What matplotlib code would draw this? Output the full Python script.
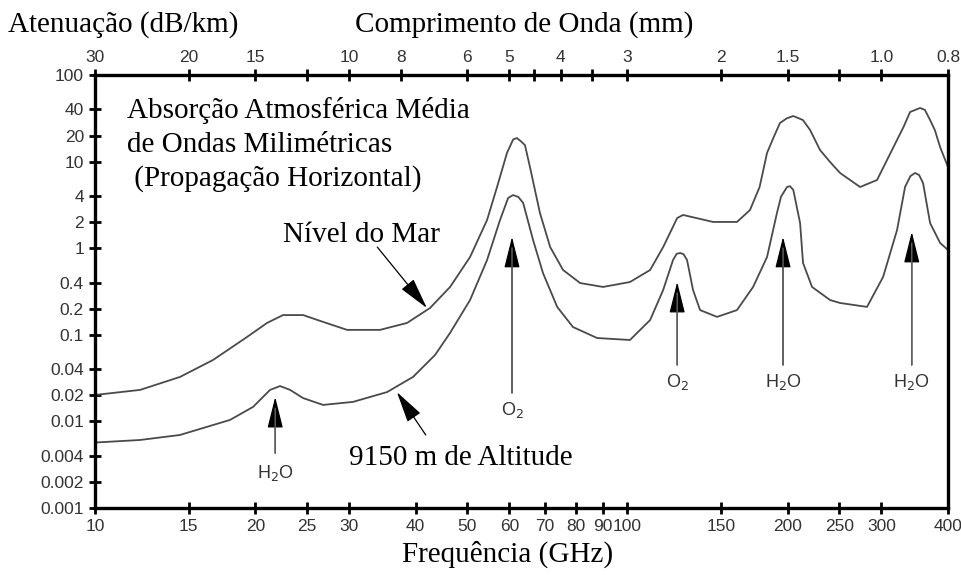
import matplotlib
matplotlib.use("Agg")
import matplotlib.pyplot as plt
from matplotlib.ticker import FixedLocator, FixedFormatter, NullLocator

SERIF = ["Liberation Serif", "DejaVu Serif"]
SANS = ["Liberation Sans", "DejaVu Sans"]
CURVE = "#4a4a4a"
TXT = "#333333"

# ── data (GHz, dB/km) ────────────────────────────────────────────────────────
freq_sea = [10, 12.15, 14.44, 16.66, 19.3, 21.04, 22.55, 24.59, 26.81, 29.74,
            34.3, 38.55, 42.58, 46.43, 50.63, 54.5, 56.9, 59.4, 61.0, 62.0,
            63.0, 64.2, 65.6, 68.5, 71.6, 75.7, 81.5, 90.0, 101.1, 110.3,
            116.7, 124.0, 127.2, 144.8, 160.6, 169.9, 177.1, 182.9, 188.4, 193.4,
            199.2, 204.9, 213.6, 220.3, 230.0, 240.2, 250.8, 273.5, 294.3, 320.9,
            330.0, 339.5, 354.5, 362.0, 370.2, 378.0, 386.6, 400]
atten_sea = [0.0202, 0.0231, 0.0326, 0.0512, 0.0944, 0.137, 0.169, 0.169, 0.141, 0.114,
             0.114, 0.137, 0.204, 0.356, 0.791, 2.12, 5.09, 12.6, 18.0, 18.7,
             17.3, 15.5, 8.66, 2.55, 1.03, 0.56, 0.396, 0.357, 0.407, 0.56,
             1.03, 2.23, 2.42, 2.01, 2.01, 2.76, 5.09, 12.6, 19.4, 27.9,
             31.6, 33.6, 30.2, 23.2, 13.6, 9.9, 7.39, 5.09, 6.13, 17.8,
             25.1, 37.4, 41.6, 39.5, 30.2, 23.0, 14.7, 8.66]

freq_alt = [10, 12.15, 14.44, 17.93, 19.81, 21.32, 22.26, 23.25, 24.59, 26.81,
            30.52, 35.36, 39.56, 43.52, 46.43, 50.63, 54.5, 57.64, 59.7, 60.97,
            62.4, 63.7, 66.5, 69.4, 73.8, 79.0, 87.7, 101.1, 110.3, 116.7,
            121.8, 123.7, 125.6, 127.5, 129.4, 132.8, 136.9, 147.3, 160.6, 172.2,
            182.9, 190.9, 194.3, 199.4, 202.0, 204.9, 211.0, 213.7, 222.2, 240.2,
            250.8, 281.8, 302.1, 320.9, 332.2, 340.0, 346.9, 353.0, 359.1, 370.2,
            386.6, 400]
atten_alt = [0.0057, 0.0061, 0.00697, 0.0104, 0.0147, 0.0231, 0.0256, 0.0231, 0.0186, 0.0155,
             0.0168, 0.0218, 0.0326, 0.0585, 0.105, 0.252, 0.731, 2.12, 3.8, 4.11,
             3.9, 3.33, 1.24, 0.517, 0.21, 0.123, 0.0918, 0.0871, 0.148, 0.329,
             0.731, 0.86, 0.881, 0.85, 0.731, 0.329, 0.193, 0.161, 0.193, 0.357,
             0.791, 2.55, 3.94, 5.09, 5.2, 4.7, 1.95, 0.675, 0.357, 0.252,
             0.233, 0.21, 0.465, 1.62, 5.09, 6.8, 7.39, 7.0, 5.66, 1.95,
             1.15, 0.953]

freq_ticks = [10, 15, 20, 25, 30, 40, 50, 60, 70, 80, 90, 100, 150, 200, 250, 300, 400]
atten_ticks = [100, 40, 20, 10, 4, 2, 1, 0.4, 0.2, 0.1, 0.04, 0.02, 0.01, 0.004, 0.002, 0.001]
atten_labels = ["100", "40", "20", "10", "4", "2", "1", "0.4", "0.2", "0.1",
                "0.04", "0.02", "0.01", "0.004", "0.002", "0.001"]
wl_ticks = [30, 20, 15, 12, 10, 8, 6, 5, 4.5, 4, 3.5, 3, 2, 1.5, 1.2, 1.0, 0.75]
wl_labels = ["30", "20", "15", "", "10", "8", "6", "5", "", "4", "", "3",
             "2", "1.5", "", "1.0", "0.8"]

# absorption lines: (freq, arrow tip, arrow tail, label y, label)
lines = [
    (21.8, 0.0191, 0.0043, 0.00254, r"H$_2$O"),
    (60.7, 1.35, 0.0213, 0.0136, r"O$_2$"),
    (124.0, 0.407, 0.0448, 0.0285, r"O$_2$"),
    (196.0, 1.35, 0.0448, 0.0285, r"H$_2$O"),
    (342.0, 1.54, 0.0448, 0.0285, r"H$_2$O"),
]

fig = plt.figure(figsize=(9.62, 5.75), dpi=100, facecolor="white")
ax = fig.add_axes([95 / 962, 1 - 508 / 575, 853 / 962, 433 / 575])
ax.set_xscale("log")
ax.set_yscale("log")
ax.set_xlim(10, 400)
ax.set_ylim(0.001, 100)

ax.plot(freq_sea, atten_sea, color=CURVE, lw=1.3, solid_joinstyle="round")
ax.plot(freq_alt, atten_alt, color=CURVE, lw=1.3, solid_joinstyle="round")

for sp in ax.spines.values():
    sp.set_linewidth(2.4)

ax.xaxis.set_major_locator(FixedLocator(freq_ticks))
ax.xaxis.set_major_formatter(FixedFormatter([str(f) for f in freq_ticks]))
ax.xaxis.set_minor_locator(NullLocator())
ax.yaxis.set_major_locator(FixedLocator(atten_ticks))
ax.yaxis.set_major_formatter(FixedFormatter(atten_labels))
ax.yaxis.set_minor_locator(NullLocator())
ax.tick_params(axis="both", direction="inout", length=8, width=2, labelsize=12.5,
               labelcolor=TXT, pad=4)
for lab in ax.get_xticklabels() + ax.get_yticklabels():
    lab.set_family(SANS)

# top axis: wavelength in mm
top = ax.twiny()
top.set_xscale("log")
top.set_xlim(ax.get_xlim())
top.xaxis.set_major_locator(FixedLocator([300 / w for w in wl_ticks]))
top.xaxis.set_major_formatter(FixedFormatter(wl_labels))
top.xaxis.set_minor_locator(NullLocator())
top.tick_params(axis="x", direction="inout", length=8, width=2, labelsize=12.5,
                labelcolor=TXT, pad=3)
for lab in top.get_xticklabels():
    lab.set_family(SANS)
for sp in top.spines.values():
    sp.set_visible(False)

HEAD = dict(arrowstyle="-|>,head_length=1.4,head_width=0.35", color="black",
            lw=0.9, shrinkA=0, shrinkB=0, mutation_scale=14)

# absorption line arrows
for f, tip, tail, ly, name in lines:
    ax.annotate("", xy=(f, tip), xytext=(f, tail), arrowprops=HEAD)
    ax.annotate("", xy=(f, tip), xytext=(f, tail),
                arrowprops=dict(arrowstyle="-", color="#666", lw=1.0,
                                shrinkA=0, shrinkB=8))
    ax.text(f, ly, name, ha="center", va="center", fontsize=13, color=TXT,
            family=SANS)

# curve labels pointers
ax.annotate("", xy=(42.0, 0.204), xytext=(33.9, 1.03), arrowprops=HEAD)
ax.annotate("", xy=(36.9, 0.0218), xytext=(41.8, 0.00697), arrowprops=HEAD)


def ftext(x, y, s, size):
    fig.text(x / 962, 1 - y / 575, s, fontsize=size, family=SERIF,
             va="baseline", ha="left", color="black")


ftext(127, 118, "Absorção Atmosférica Média", 21)
ftext(127, 152, "de Ondas Milimétricas", 21)
ftext(127, 186, " (Propagação Horizontal)", 21)
ftext(283, 242, "Nível do Mar", 21)
ftext(349, 465, "9150 m de Altitude", 21)

ftext(8, 32, "Atenuação (dB/km)", 21)
ftext(355, 32, "Comprimento de Onda (mm)", 21)
ftext(402, 562, "Frequência (GHz)", 21)

fig.savefig("out.png", dpi=100, facecolor="white")
